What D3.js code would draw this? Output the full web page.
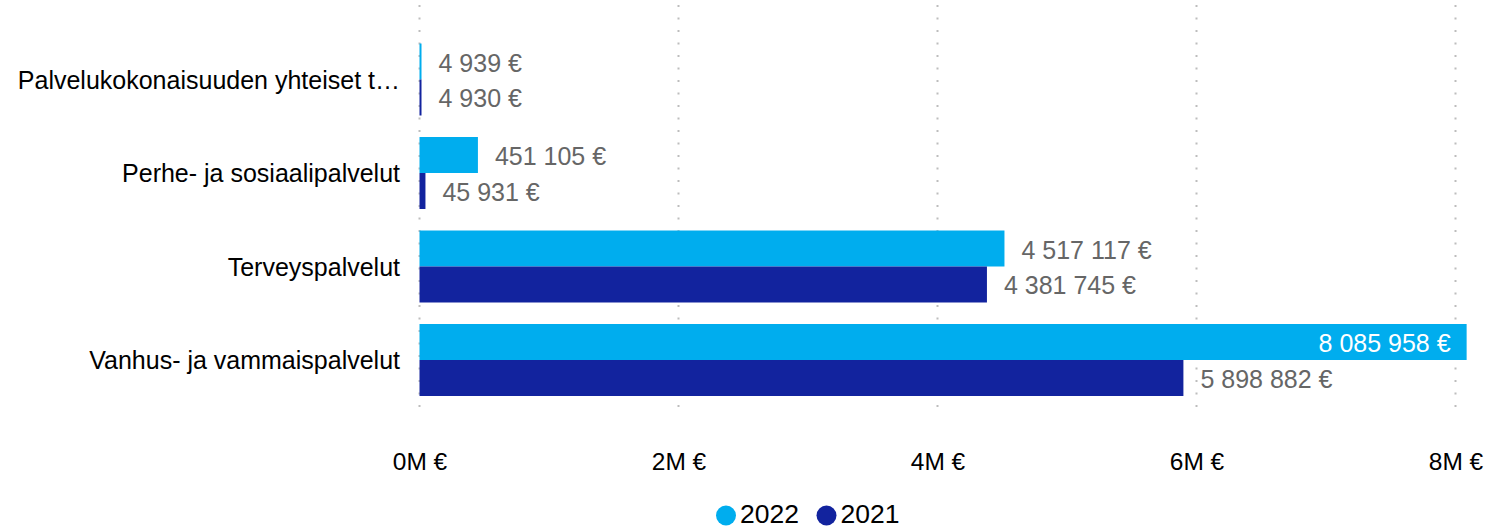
<!DOCTYPE html>
<html lang="fi">
<head>
    <meta charset="UTF-8">
    <title>Palvelukokonaisuudet 2022 / 2021</title>
    <script src="https://d3js.org/d3.v7.min.js"></script>
    <style>
        body {
            margin: 0;
            font-family: Arial, "Liberation Sans", sans-serif;
            background: #fff;
        }
        svg {
            display: block;
        }
    </style>
</head>
<body>
    <div id="container"></div>

    <script>
        // data
        const categories = [
            'Palvelukokonaisuuden yhteiset t\u2026',
            'Perhe- ja sosiaalipalvelut',
            'Terveyspalvelut',
            'Vanhus- ja vammaispalvelut'
        ];
        const years = ['2022', '2021'];
        const values2022 = [4939, 451105, 4517117, 8085958];
        const values2021 = [4930, 45931, 4381745, 5898882];
        const tickValues = [0, 2000000, 4000000, 6000000, 8000000];
        const colors = ['#00ADEE', '#12239E'];

        const width = 1489, height = 529;

        const svg = d3.select('#container').append('svg')
            .attr('width', width)
            .attr('height', height);

        // scales
        const x = d3.scaleLinear()
            .domain([0, 8000000])
            .range([419.5, 1455.5]);

        const y = d3.scaleBand()
            .domain(categories)
            .range([32.75, 406.75])
            .paddingInner(0.23)
            .paddingOuter(0.115);

        const ySub = d3.scaleBand()
            .domain(years)
            .range([0, y.bandwidth()]);

        const color = d3.scaleOrdinal().domain(years).range(colors);

        // format "4 517 117 €"
        const fmtNum = d3.formatLocale({decimal: ',', thousands: '\u00a0', grouping: [3], currency: ['', '\u00a0€']}).format(',d');
        const fmt = v => fmtNum(v) + '\u00a0€';

        // gridlines
        svg.selectAll('.grid')
            .data(tickValues)
            .enter()
            .append('line')
            .attr('x1', d => x(d))
            .attr('x2', d => x(d))
            .attr('y1', 5)
            .attr('y2', 410)
            .attr('stroke', '#bdbdbd')
            .attr('stroke-width', 2)
            .attr('stroke-dasharray', '2,10.5');

        // x axis labels
        const xAxis = d3.axisBottom(x)
            .tickValues(tickValues)
            .tickSize(0)
            .tickPadding(0)
            .tickFormat(d => (d / 1000000) + 'M €');

        const axisG = svg.append('g')
            .attr('transform', 'translate(0,453)')
            .call(xAxis);
        axisG.select('.domain').remove();
        axisG.selectAll('text')
            .attr('font-family', 'Arial, "Liberation Sans", sans-serif')
            .attr('font-size', 24.5)
            .attr('fill', '#000')
            .attr('dy', '0.71em');

        // category labels
        svg.selectAll('.cat')
            .data(categories)
            .enter()
            .append('text')
            .attr('x', 400)
            .attr('y', d => y(d) + y.bandwidth() / 2)
            .attr('dy', '0.37em')
            .attr('text-anchor', 'end')
            .attr('font-size', 25)
            .attr('fill', '#000')
            .text(d => d);

        // bars
        const rows = [];
        categories.forEach((c, i) => {
            rows.push({cat: c, year: '2022', value: values2022[i]});
            rows.push({cat: c, year: '2021', value: values2021[i]});
        });

        svg.selectAll('.bar')
            .data(rows)
            .enter()
            .append('rect')
            .attr('x', x(0))
            .attr('y', d => y(d.cat) + ySub(d.year))
            .attr('width', d => Math.max(2, x(d.value) - x(0)))
            .attr('height', ySub.bandwidth())
            .attr('fill', d => color(d.year));

        // value labels
        svg.selectAll('.val')
            .data(rows)
            .enter()
            .append('text')
            .attr('x', function(d) {
                const end = x(0) + Math.max(2, x(d.value) - x(0));
                return end > 1300 ? end - 16 : end + 17;
            })
            .attr('y', d => y(d.cat) + ySub(d.year) + ySub.bandwidth() / 2)
            .attr('dy', '0.4em')
            .attr('text-anchor', d => x(d.value) > 1300 ? 'end' : 'start')
            .attr('font-size', 25)
            .attr('fill', d => x(d.value) > 1300 ? '#fff' : '#666')
            .text(d => fmt(d.value));

        // legend
        const legend = svg.append('g').attr('transform', 'translate(726,515.5)');
        const legendX = [0, 100.5];
        years.forEach((yr, i) => {
            legend.append('circle')
                .attr('cx', legendX[i])
                .attr('cy', 0)
                .attr('r', 10)
                .attr('fill', color(yr));
            legend.append('text')
                .attr('x', legendX[i] + 14)
                .attr('y', 7.5)
                .attr('font-size', 26.5)
                .attr('fill', '#000')
                .text(yr);
        });
    </script>
</body>
</html>
